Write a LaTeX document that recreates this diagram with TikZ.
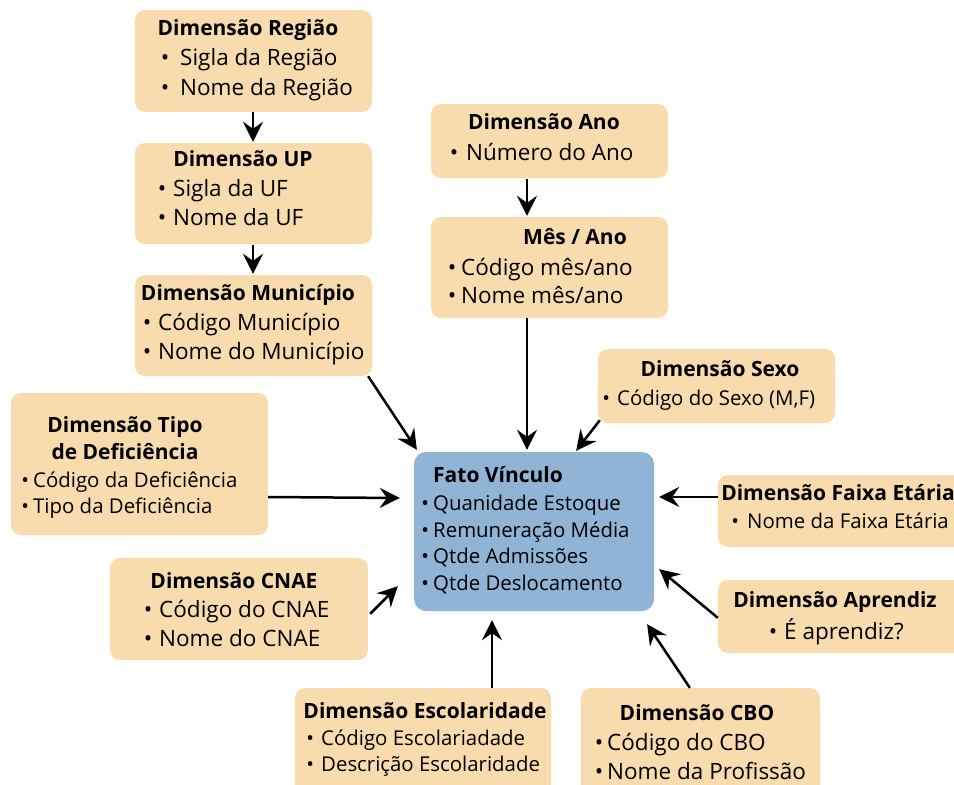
\documentclass[tikz,border=0pt]{standalone}
\usepackage{fontspec}
\setmainfont{Open Sans}
\usetikzlibrary{arrows.meta}
\definecolor{dimfill}{HTML}{F9DCAE}
\definecolor{factfill}{HTML}{8FB4D6}
\newcommand\bl[1]{\llap{\makebox[0pt]{•}\hspace{#1pt}}}
\tikzset{
  dimbox/.style={draw=none, fill=dimfill, rounded corners=10pt, inner sep=0pt},
  factbox/.style={draw=none, fill=factfill, rounded corners=12pt, inner sep=0pt},
  ttl/.style={font=\bfseries\fontsize{21}{24}\selectfont, inner sep=0pt, anchor=base},
  itm/.style={font=\fontsize{22.5}{25}\selectfont, inner sep=0pt, anchor=base west},
  sitm/.style={font=\fontsize{20.4}{23}\selectfont, inner sep=0pt, anchor=base west},
  pin/.style={inner sep=0pt, minimum size=0pt},
  conn/.style={line width=2.5pt, -{Stealth[length=20pt,width=20pt,inset=7pt]}},
}
\begin{document}
\begin{tikzpicture}[x=1pt,y=-1pt]
\useasboundingbox (0,0) rectangle (954,785);
% boxes
\path[dimbox] (135,10) rectangle (372,112);
\path[dimbox] (135,143) rectangle (372,244);
\path[dimbox] (135,275) rectangle (372,376);
\path[dimbox] (11,393) rectangle (268,535);
\path[dimbox] (110,558) rectangle (368,660);
\path[dimbox] (295,688) rectangle (551,795);
\path[dimbox] (581,688) rectangle (820,795);
\path[dimbox] (718,580) rectangle (964,653);
\path[dimbox] (718,475) rectangle (964,547);
\path[dimbox] (598,349) rectangle (835,423);
\path[dimbox] (431,104) rectangle (668,178);
\path[dimbox] (431,217) rectangle (668,318);
\path[factbox] (414,452) rectangle (654,611);
% named anchor nodes for connectors
\node[pin] (regS) at (253,112) {};
\node[pin] (ufN) at (253,142) {};
\node[pin] (ufS) at (253,245) {};
\node[pin] (munN) at (253,274) {};
\node[pin] (anoS) at (527,179) {};
\node[pin] (mesN) at (527,216) {};
\node[pin] (mesS) at (527,318) {};
\node[pin] (fatoN) at (527,450) {};
\node[pin] (munS) at (368,376) {};
\node[pin] (fatoNW) at (417,450) {};
\node[pin] (sexS) at (600,420) {};
\node[pin] (fatoNE) at (576,451) {};
\node[pin] (defE) at (268,497) {};
\node[pin] (fatoW) at (400,498) {};
\node[pin] (faiW) at (718,497) {};
\node[pin] (fatoE) at (659,497) {};
\node[pin] (cnaE) at (370,614) {};
\node[pin] (fatoSW) at (398,586) {};
\node[pin] (aprW) at (718,618) {};
\node[pin] (fatoSE) at (659,569) {};
\node[pin] (escN) at (492,688) {};
\node[pin] (fatoS) at (492,620) {};
\node[pin] (cboN) at (690,688) {};
\node[pin] (fatoSE2) at (647,624) {};
% connectors
\draw[conn] (regS) -- (ufN);
\draw[conn] (ufS) -- (munN);
\draw[conn] (anoS) -- (mesN);
\draw[conn] (mesS) -- (fatoN);
\draw[conn] (munS) -- (fatoNW);
\draw[conn] (sexS) -- (fatoNE);
\draw[conn] (defE) -- (fatoW);
\draw[conn] (faiW) -- (fatoE);
\draw[conn] (cnaE) -- (fatoSW);
\draw[conn] (aprW) -- (fatoSE);
\draw[conn] (escN) -- (fatoS);
\draw[conn] (cboN) -- (fatoSE2);
% texts
\begin{scope}[shift={(0,2)}]
\node[ttl] (t1) at (248,33) {Dimensão Região};
\node[itm] (t1a) at (180,63) {\bl{15}Sigla da Região};
\node[itm] (t1b) at (180,93) {\bl{15}Nome da Região};
\node[ttl] (t2) at (243,164) {Dimensão UP};
\node[itm] (t2a) at (173,194) {\bl{11}Sigla da UF};
\node[itm] (t2b) at (173,223) {\bl{11}Nome da UF};
\node[ttl] (t3) at (248,298) {Dimensão Município};
\node[itm] (t3a) at (158,328) {\bl{11}Código Município};
\node[itm] (t3b) at (158,357) {\bl{11}Nome do Município};
\node[ttl] (t4) at (125,430) {Dimensão Tipo};
\node[ttl] (t4b) at (125,457) {de Deficiência};
\node[sitm] (t4c) at (33,485) {\bl{8}Código da Deficiência};
\node[sitm] (t4d) at (33,511) {\bl{8}Tipo da Deficiência};
\node[ttl] (t5) at (234,586) {Dimensão CNAE};
\node[itm] (t5a) at (159,615) {\bl{11}Código do CNAE};
\node[itm] (t5b) at (159,644) {\bl{11}Nome do CNAE};
\node[ttl] (t6) at (425,716) {Dimensão Escolaridade};
\node[sitm] (t6a) at (321,743) {\bl{11}Código Escolariadade};
\node[sitm] (t6b) at (321,769) {\bl{11}Descrição Escolaridade};
\node[ttl] (t7) at (697,718) {Dimensão CBO};
\node[itm] (t7a) at (607,748) {\bl{8}Código do CBO};
\node[itm] (t7b) at (607,777) {\bl{8}Nome da Profissão};
\node[ttl] (t8) at (835,605) {Dimensão Aprendiz};
\node[itm] (t8a) at (784,637) {\bl{11}É aprendiz?};
\node[ttl] (t9) at (838,498) {Dimensão Faixa Etária};
\node[sitm] (t9a) at (747,526) {\bl{12}Nome da Faixa Etária};
\node[ttl] (t10) at (720,374) {Dimensão Sexo};
\node[sitm] (t10a) at (617,403) {\bl{11}Código do Sexo (M,F)};
\node[ttl] (t11) at (544,127) {Dimensão Ano};
\node[itm] (t11a) at (466,158) {\bl{12}Número do Ano};
\node[ttl] (t12) at (575,242) {Mês / Ano};
\node[itm] (t12a) at (461,273) {\bl{9}Código mês/ano};
\node[itm] (t12b) at (461,301) {\bl{9}Nome mês/ano};
\node[ttl, anchor=base west] (t13) at (433,480) {Fato Vínculo};
\node[sitm] (t13a) at (433,508) {\bl{8}Quanidade Estoque};
\node[sitm] (t13b) at (433,535) {\bl{8}Remuneração Média};
\node[sitm] (t13c) at (433,561) {\bl{8}Qtde Admissões};
\node[sitm] (t13d) at (433,588) {\bl{8}Qtde Deslocamento};
\end{scope}
\end{tikzpicture}
\end{document}
